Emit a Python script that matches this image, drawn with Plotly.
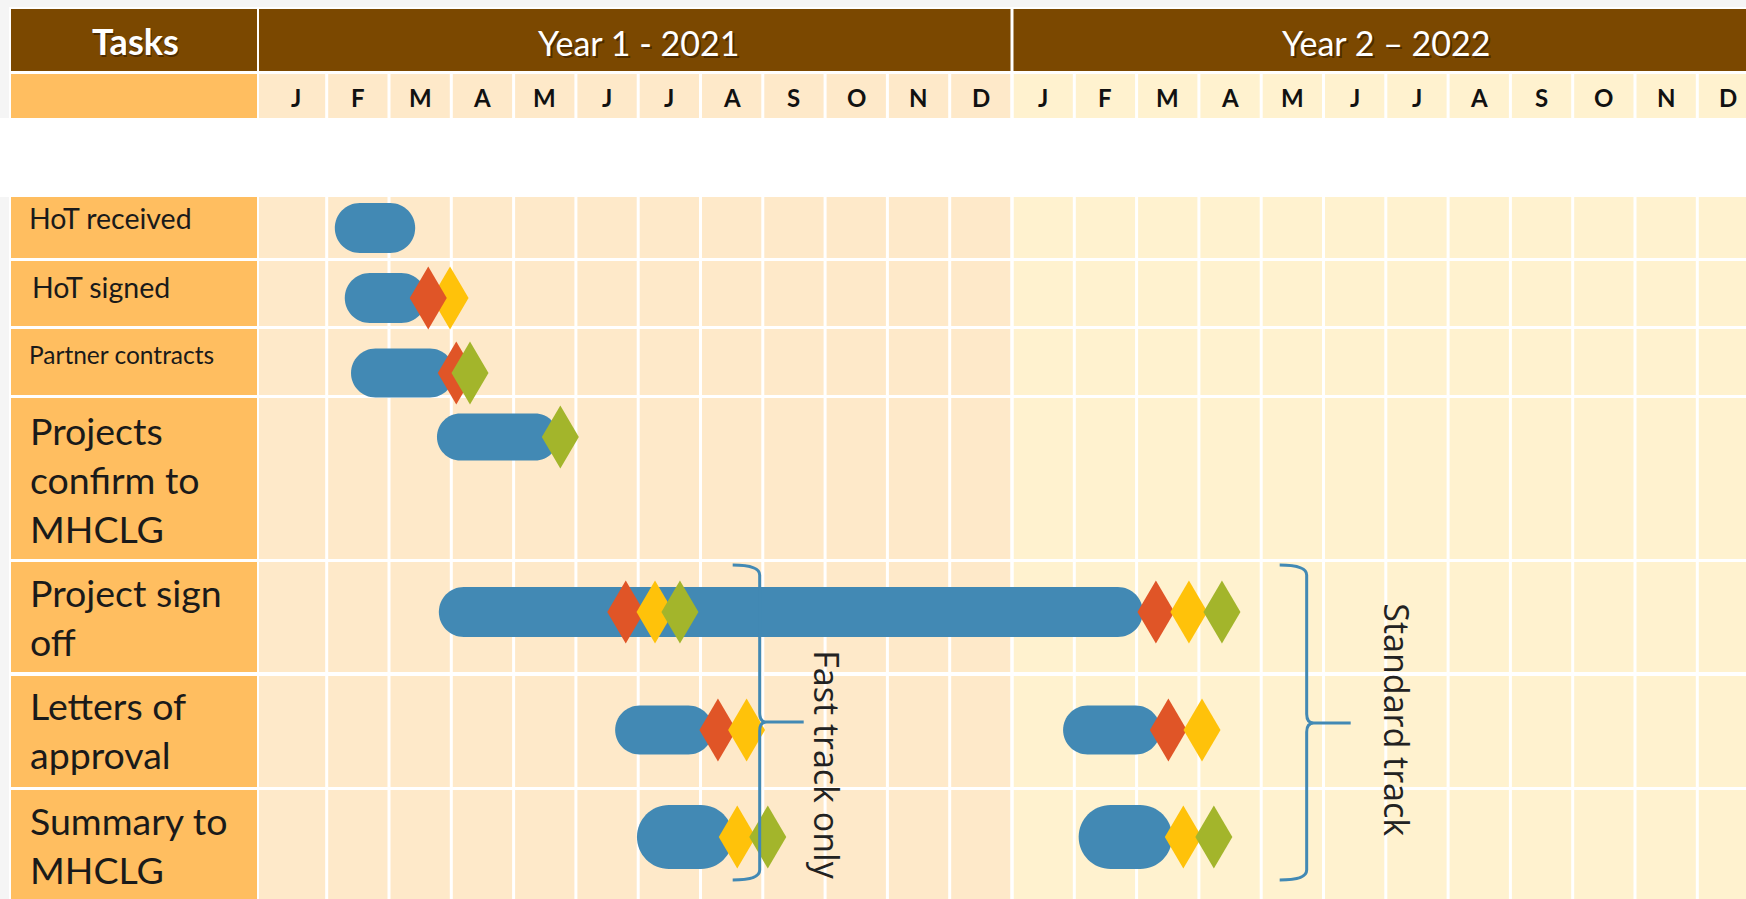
import plotly.graph_objects as go

# ---------------- data ----------------
months = ["J", "F", "M", "A", "M", "J", "J", "A", "S", "O", "N", "D"]
years = ["Year 1 - 2021", "Year 2 \u2013 2022"]
header_tasks = "Tasks"
tasks = ["HoT received", "HoT signed", "Partner contracts",
         "Projects<br>confirm to<br>MHCLG", "Project sign<br>off",
         "Letters of<br>approval", "Summary to<br>MHCLG"]

# activity bars: task index, start / end (months counted from Jan 2021)
bar_task = [0, 1, 2, 3, 4, 5, 5, 6, 6]
bar_start = [1.13, 1.29, 1.39, 2.77, 2.80, 5.63, 12.82, 5.98, 13.07]
bar_end = [2.42, 2.60, 3.05, 4.72, 14.10, 7.20, 14.38, 7.52, 14.57]

# milestones: task index, month, kind
ms_task = [1, 1, 2, 2, 3, 4, 4, 4, 4, 4, 4, 5, 5, 5, 5, 6, 6, 6, 6]
ms_month = [2.98, 2.63, 3.08, 3.30, 4.75, 5.80, 6.27, 6.67, 14.31, 14.84, 15.37,
            7.28, 7.74, 14.51, 15.05, 7.59, 8.08, 14.75, 15.24]
ms_kind = ["y", "r", "r", "g", "g", "r", "y", "g", "r", "y", "g",
           "r", "y", "r", "y", "y", "g", "y", "g"]

tracks = ["Fast track only", "Standard track"]
track_month = [7.95, 16.73]

# ---------------- layout / style ----------------
W, H = 1746, 899
X0, MW = 264.4, 62.3          # pixel of month 0, pixels per month


def mx(px):
    return (px - X0) / MW


BROWN = "#7B4800"
ORANGE = "#FFBE60"
PEACH = "#FEE9C9"
CREAM = "#FFF2CF"
BLUE = "#4289B4"
MS_COLORS = {"r": "#E05527", "y": "#FFC20A", "g": "#A3B52B"}

ROWS = [(197, 258), (261, 326), (329, 395), (398, 559), (562, 672), (676, 787), (790, 905)]
BAR_Y = [228, 298, 373, 437, 612, 730, 837]
BAR_H = [50, 50, 49, 47, 50, 49, 64]
LABEL_Y = [218, 287, 354, 479, 617, 730, 845]
LABEL_SIZE = [28.5, 28.5, 24.5, 37.5, 37.5, 37.5, 37.5]
LABEL_X = [27, 30, 27, 28, 28, 28, 28]
TRACK_TEXT_DX = [67, 90]
TRACK_TEXT_Y = [765, 720]

shapes = []


def rect(x0, x1, y0, y1, color):
    shapes.append(dict(type="rect", xref="x", yref="y", x0=mx(x0), x1=mx(x1), y0=y0, y1=y1,
                       fillcolor=color, line=dict(width=0), layer="below"))


# white sheet
rect(9, W + 20, 7, H + 10, "white")

# header row
rect(11, 257, 9, 71, BROWN)
rect(259, X0 + 12 * MW - 1.5, 9, 71, BROWN)
rect(X0 + 12 * MW + 1.5, W + 30, 9, 71, BROWN)

# month row and task rows
for (y0, y1) in [(74, 118)] + ROWS:
    rect(11, 257, y0, y1, ORANGE)
    rect(259, X0 + 12 * MW - 1.5, y0, y1, PEACH)
    rect(X0 + 12 * MW + 1.5, W + 30, y0, y1, CREAM)

# vertical month grid lines
for k in range(1, 25):
    shapes.append(dict(type="line", xref="x", yref="y", x0=k, x1=k, y0=74, y1=H + 10,
                       line=dict(color="white", width=3), layer="below"))

# white band between month row and tasks
rect(0, W + 30, 118, 197, "white")

# bars (stadium shape)
K = 0.5523
for t, s, e in zip(bar_task, bar_start, bar_end):
    yc, r = BAR_Y[t], BAR_H[t] / 2
    rx = r / MW
    top, bot = yc - r, yc + r
    path = (f"M{s + rx},{top} L{e - rx},{top} "
            f"C{e - rx + K * rx},{top} {e},{yc - K * r} {e},{yc} "
            f"C{e},{yc + K * r} {e - rx + K * rx},{bot} {e - rx},{bot} "
            f"L{s + rx},{bot} "
            f"C{s + rx - K * rx},{bot} {s},{yc + K * r} {s},{yc} "
            f"C{s},{yc - K * r} {s + rx - K * rx},{top} {s + rx},{top} Z")
    shapes.append(dict(type="path", xref="x", yref="y", path=path,
                       fillcolor=BLUE, line=dict(width=0), layer="above"))

# milestone diamonds
DW, DH = 18.5 / MW, 31.5
for t, m, kd in zip(ms_task, ms_month, ms_kind):
    yc = BAR_Y[t]
    path = f"M{m},{yc - DH} L{m + DW},{yc} L{m},{yc + DH} L{m - DW},{yc} Z"
    shapes.append(dict(type="path", xref="x", yref="y", path=path,
                       fillcolor=MS_COLORS[kd], line=dict(width=0), layer="above"))

# curly brackets
annotations = []
ytop, ybot, ymid_list = 565, 880, [722, 723]
for i, (lab, xm) in enumerate(zip(tracks, track_month)):
    ymid = ymid_list[i]
    hook = 27 / MW
    tip = 44 / MW
    c = 7 / MW
    path = (f"M{xm - hook},{ytop} Q{xm},{ytop} {xm},{ytop + 10} "
            f"L{xm},{ymid - 9} Q{xm},{ymid} {xm + c},{ymid} L{xm + tip},{ymid} "
            f"M{xm + c},{ymid} Q{xm},{ymid} {xm},{ymid + 9} "
            f"L{xm},{ybot - 10} Q{xm},{ybot} {xm - hook},{ybot}")
    shapes.append(dict(type="path", xref="x", yref="y", path=path,
                       line=dict(color=BLUE, width=3), layer="above"))
    annotations.append(dict(x=xm + TRACK_TEXT_DX[i] / MW, y=TRACK_TEXT_Y[i], xref="x", yref="y",
                            text=lab, textangle=90, showarrow=False,
                            font=dict(family="Open Sans", size=34, color="#222222"),
                            xanchor="center", yanchor="middle"))


# header texts (with soft shadow)
def header_text(xm, y, text, size, bold=False):
    t = f"<b>{text}</b>" if bold else text
    annotations.append(dict(x=xm + 1.8 / MW, y=y + 2, xref="x", yref="y", text=t, showarrow=False,
                            font=dict(family="Lato", size=size, color="rgba(40,20,0,0.55)"),
                            xanchor="center", yanchor="middle"))
    annotations.append(dict(x=xm, y=y, xref="x", yref="y", text=t, showarrow=False,
                            font=dict(family="Lato", size=size, color="white"),
                            xanchor="center", yanchor="middle"))


header_text(mx(135), 41, header_tasks, 36, bold=True)
header_text(6, 42, years[0], 34)
header_text(18, 42, years[1], 34)

# month letters
for yi in range(2):
    for i, mlab in enumerate(months):
        annotations.append(dict(x=yi * 12 + i + 0.5, y=97, xref="x", yref="y",
                                text=f"<b>{mlab}</b>", showarrow=False,
                                font=dict(family="Lato", size=24, color="#111111"),
                                xanchor="center", yanchor="middle"))

# task labels
for i, t in enumerate(tasks):
    annotations.append(dict(x=mx(LABEL_X[i]), y=LABEL_Y[i], xref="x", yref="y", text=t,
                            showarrow=False, align="left",
                            font=dict(family="Lato", size=LABEL_SIZE[i], color="#1A1A1A"),
                            xanchor="left", yanchor="middle"))

fig = go.Figure()
fig.add_trace(go.Scatter(x=[0], y=[0], mode="markers", marker=dict(opacity=0),
                         hoverinfo="skip", showlegend=False))
fig.update_layout(
    width=W, height=H, margin=dict(l=0, r=0, t=0, b=0),
    paper_bgcolor="#F5F5F5", plot_bgcolor="rgba(0,0,0,0)",
    xaxis=dict(range=[mx(0), mx(W)], visible=False, fixedrange=True),
    yaxis=dict(range=[H, 0], visible=False, fixedrange=True),
    shapes=shapes, annotations=annotations, showlegend=False,
)
fig.write_html("out.html", config={"displayModeBar": False},
               post_script="document.body.style.margin='0';document.body.style.overflow='hidden';")
